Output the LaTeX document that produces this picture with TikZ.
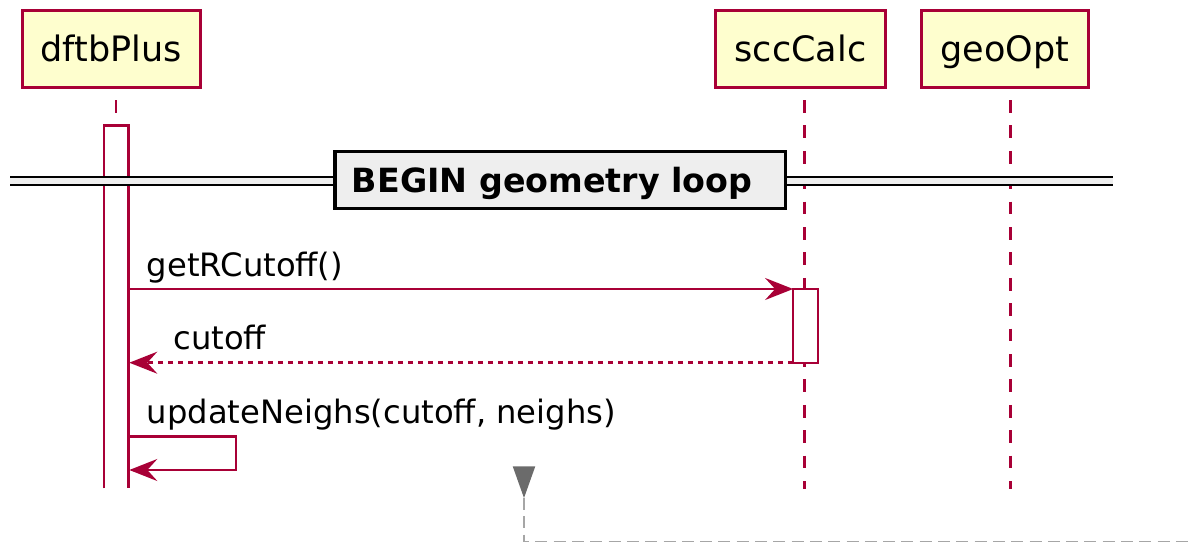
\documentclass[tikz,border=0pt]{standalone}
\usepackage{fontspec}
\setmainfont{DejaVu Sans}
\usetikzlibrary{arrows.meta}
\definecolor{umlred}{HTML}{A80036}
\definecolor{umlfill}{HTML}{FEFECE}
\definecolor{sepgray}{HTML}{EEEEEE}
\definecolor{tipgray}{HTML}{6B6B6B}
\definecolor{linkgray}{HTML}{A6A6A6}
\tikzset{
  participant/.style={draw=umlred, fill=umlfill, line width=3.2pt, inner sep=0pt,
    text height=30pt, text depth=5pt, font=\fontsize{35}{42}\selectfont},
  lifeline/.style={draw=umlred, line width=2.5pt, dash pattern=on 12.7pt off 12.7pt},
  actbar/.style={draw=umlred, fill=white, line width=2.5pt},
  umlhead/.style={-{Stealth[length=28pt, width=22pt, inset=10pt]}},
  msg/.style={draw=umlred, line width=2.5pt, umlhead},
  reply/.style={msg, dash pattern=on 5pt off 5pt},
  msglabel/.style={anchor=base west, inner sep=0pt, font=\fontsize{32.2}{39}\selectfont},
  septitle/.style={draw=black, fill=sepgray, line width=3.3pt, inner sep=0pt},
  sepline/.style={draw=black, line width=2.2pt},
  linkline/.style={draw=linkgray, line width=1.8pt, dash pattern=on 12pt off 6.3pt}
}
\begin{document}
\begin{tikzpicture}[x=1pt, y=-1pt]
\useasboundingbox (0,0) rectangle (1194,543);

% participants
\node[participant, minimum width=178pt, minimum height=77pt] (dftb) at (111.2,49.2) {dftbPlus};
\node[participant, minimum width=170pt, minimum height=77pt] (scc) at (800.5,49.2) {sccCalc};
\node[participant, minimum width=167pt, minimum height=77pt] (geo) at (1005,49.2) {geoOpt};

% lifelines
\coordinate (dftbTop) at (116,100);   \coordinate (dftbEnd) at (116,489);
\coordinate (sccTop) at (804.3,100);  \coordinate (sccEnd) at (804.3,489);
\coordinate (geoTop) at (1010.7,100); \coordinate (geoEnd) at (1010.7,489);
\draw[lifeline] (dftbTop) -- (dftbEnd);
\draw[lifeline] (sccTop) -- (sccEnd);
\draw[lifeline] (geoTop) -- (geoEnd);

% activation of dftbPlus (runs to the end of the lifeline)
\fill[white] (104,125.5) rectangle (128.7,489);
\draw[actbar] (104,488.3) -- (104,125.5) -- (128.7,125.5) -- (128.7,488.3);

% separator
\fill[sepgray] (10,177.3) rectangle (1112.7,185.3);
\draw[sepline] (10,177.3) -- (1112.7,177.3);
\draw[sepline] (10,185.3) -- (1112.7,185.3);
\node[septitle, minimum width=450.7pt, minimum height=56.7pt] (sep) at (560.3,180) {};
\node[anchor=base west, inner sep=0pt, font=\bfseries\fontsize{33.3}{40}\selectfont] (septext) at (351.7,192.3) {BEGIN geometry loop};

% activation of sccCalc
\node[actbar, minimum width=25pt, minimum height=74pt, inner sep=0pt, outer sep=0pt] (act) at (805.6,326) {};

% messages
\coordinate (callFrom) at (129.3,289);
\coordinate (replyTo) at (129.3,362.7);
\coordinate (selfFrom) at (129.3,436.7);
\coordinate (selfTurnA) at (236,436.7);
\coordinate (selfTurnB) at (236,470);
\coordinate (selfTo) at (129.3,470);

\draw[msg] (callFrom) -- (callFrom -| act.west);
\node[msglabel] (lblCall) at (146.7,276) {getRCutoff()};

\draw[reply] (replyTo -| act.west) -- (replyTo);
\node[msglabel] (lblReply) at (173.3,349) {cutoff};

\draw[msg] (selfFrom) -- (selfTurnA) -- (selfTurnB) -- (selfTo);
\node[msglabel] (lblSelf) at (146.7,423.3) {updateNeighs(cutoff, neighs)};

% grey marker with its dashed link
\coordinate (tipEnd) at (524,498);
\coordinate (linkCorner) at (524,541.5);
\coordinate (linkEnd) at (1194,541.5);
\fill[tipgray] (512.7,466.3) -- (535.3,466.3) -- (tipEnd) -- cycle;
\draw[linkline] (tipEnd) -- (linkCorner) -- (linkEnd);
\end{tikzpicture}
\end{document}
